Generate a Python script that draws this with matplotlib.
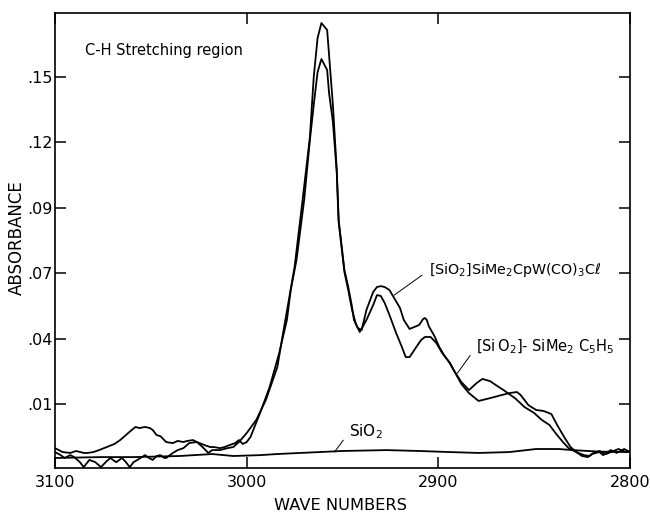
import matplotlib
matplotlib.use("Agg")
import matplotlib.pyplot as plt

# IR spectra, C-H stretching region (wavenumber in cm-1, absorbance)
cpw_wn = [3100, 3097, 3095, 3092, 3090, 3087, 3085, 3083, 3082, 3079, 3076, 3073, 3071, 3069,
          3068, 3065, 3063, 3061, 3059, 3057, 3053, 3051, 3049, 3047, 3045, 3043, 3042, 3040,
          3038.5, 3036, 3033, 3030, 3026, 3023, 3020, 3018, 3014, 3010, 3007, 3004, 3000,
          2995, 2990, 2984, 2981, 2978, 2975, 2971, 2967, 2965, 2963, 2961, 2958, 2957, 2955,
          2953, 2952, 2949, 2947, 2945, 2944, 2942, 2940, 2937.5, 2934, 2932, 2930, 2928,
          2925.5, 2923, 2920, 2918, 2915, 2912.5, 2910, 2908, 2907, 2906, 2905, 2902, 2899.5,
          2897, 2894, 2892, 2888, 2884, 2880, 2877, 2873, 2870, 2866, 2860, 2855, 2850, 2846,
          2842, 2838.5, 2835, 2832, 2828, 2824, 2821, 2819, 2816, 2812.5, 2810, 2806, 2802, 2800]
cpw_abs = [-0.0120, -0.0134, -0.0147, -0.0134, -0.0143, -0.0166, -0.0189, -0.0166, -0.0156,
           -0.0166, -0.0189, -0.0161, -0.0147, -0.0161, -0.0166, -0.0147, -0.0166, -0.0189,
           -0.0166, -0.0156, -0.0134, -0.0147, -0.0156, -0.0138, -0.0134, -0.0147, -0.0147,
           -0.0134, -0.0124, -0.0111, -0.0102, -0.0079, -0.0074, -0.0097, -0.0124, -0.0111,
           -0.0111, -0.0102, -0.0097, -0.0074, -0.0033,
           0.0027, 0.0118, 0.0269, 0.0425, 0.0576, 0.0727, 0.1021, 0.1323, 0.1598, 0.1776,
           0.1845, 0.1813, 0.1698, 0.1470, 0.1172, 0.0943, 0.0714, 0.0636, 0.0544, 0.0485,
           0.0448, 0.0439, 0.0531, 0.0613, 0.0636, 0.0640, 0.0636, 0.0622, 0.0585, 0.0540,
           0.0485, 0.0444, 0.0453, 0.0462, 0.0489, 0.0494, 0.0485, 0.0457, 0.0411, 0.0361,
           0.0324, 0.0288, 0.0256, 0.0201, 0.0164, 0.0196, 0.0215, 0.0205, 0.0187, 0.0164,
           0.0127, 0.0086, 0.0059, 0.0027, 0.0004, -0.0037, -0.0074, -0.0102, -0.0120,
           -0.0134, -0.0138, -0.0124, -0.0115, -0.0129, -0.0120, -0.0106, -0.0120, -0.0115]

c5h5_wn = [3100, 3096, 3092, 3089, 3085, 3083, 3080, 3077, 3073, 3069, 3066, 3063, 3060, 3058,
           3056, 3053, 3050.5, 3049, 3047, 3045, 3044, 3042, 3038.5, 3036, 3033, 3031, 3028,
           3026, 3024.5, 3022, 3019, 3017, 3014, 3011.5, 3009, 3006, 3004, 3002, 3000, 2998,
           2993, 2988, 2983, 2979, 2977, 2974, 2970, 2967, 2965, 2963, 2961, 2958, 2957, 2955,
           2953, 2952, 2949, 2947, 2945, 2943, 2941, 2937.5, 2934, 2932, 2930, 2928, 2925.5,
           2922, 2919, 2917, 2915, 2911.5, 2909, 2907, 2904, 2901, 2898, 2894, 2892, 2888,
           2884, 2879, 2873, 2867, 2863, 2859, 2857, 2853, 2849, 2845, 2841, 2838, 2834, 2831,
           2828, 2825, 2822, 2820, 2816, 2814, 2810, 2807, 2803, 2800]
c5h5_abs = [-0.0102, -0.0120, -0.0124, -0.0115, -0.0124, -0.0124, -0.0120, -0.0111, -0.0097,
            -0.0083, -0.0065, -0.0042, -0.0019, -0.0005, -0.0010, -0.0005, -0.0010, -0.0019,
            -0.0042, -0.0047, -0.0056, -0.0074, -0.0079, -0.0069, -0.0074, -0.0069, -0.0065,
            -0.0074, -0.0079, -0.0088, -0.0097, -0.0097, -0.0102, -0.0097, -0.0088, -0.0079,
            -0.0065, -0.0083, -0.0074, -0.0051,
            0.0059, 0.0178, 0.0334, 0.0485, 0.0622, 0.0760, 0.1034, 0.1309, 0.1470, 0.1620,
            0.1680, 0.1630, 0.1524, 0.1392, 0.1163, 0.0934, 0.0705, 0.0622, 0.0531, 0.0466,
            0.0430, 0.0485, 0.0553, 0.0599, 0.0595, 0.0563, 0.0508, 0.0425, 0.0361, 0.0315,
            0.0315, 0.0361, 0.0393, 0.0407, 0.0407, 0.0379, 0.0334, 0.0288, 0.0256, 0.0192,
            0.0150, 0.0114, 0.0127, 0.0141, 0.0150, 0.0155, 0.0141, 0.0095, 0.0073, 0.0068,
            0.0054, 0.0004, -0.0056, -0.0097, -0.0120, -0.0138, -0.0143, -0.0129, -0.0120,
            -0.0134, -0.0111, -0.0124, -0.0106, -0.0120]

sio2_wn = [3100, 3076, 3059, 3035, 3018, 3007, 2993, 2984, 2972, 2962, 2950, 2927, 2910,
           2894, 2879, 2863, 2849, 2837, 2830, 2816, 2800]
sio2_abs = [-0.0147, -0.0143, -0.0143, -0.0138, -0.0129, -0.0138, -0.0134, -0.0129, -0.0124,
            -0.0120, -0.0115, -0.0111, -0.0115, -0.0120, -0.0124, -0.0120, -0.0106, -0.0106,
            -0.0111, -0.0118, -0.0120]

x_ticks = [3100, 3000, 2900, 2800]
y_ticks = [0.01, 0.04, 0.07, 0.10, 0.13, 0.16]
y_tick_labels = [".01", ".04", ".07", ".09", ".12", ".15"]

fig = plt.figure(figsize=(6.5, 5.13), dpi=100)
ax = fig.add_axes([0.0846, 0.0877, 0.8846, 0.887])

line_kw = dict(color="black", lw=1.3)
ax.plot(cpw_wn, cpw_abs, **line_kw)
ax.plot(c5h5_wn, c5h5_abs, **line_kw)
ax.plot(sio2_wn, sio2_abs, **line_kw)

ax.set_xlim(3100, 2800)
ax.set_ylim(-0.0193, 0.1891)
ax.set_xticks(x_ticks)
ax.set_xticklabels([str(t) for t in x_ticks])
ax.set_yticks(y_ticks)
ax.set_yticklabels(y_tick_labels)
ax.tick_params(direction="in", length=8, width=1.1, labelsize=11.5,
               top=True, right=True)
ax.tick_params(axis="y", pad=1.5)
ax.tick_params(axis="x", pad=5)
for spine in ax.spines.values():
    spine.set_linewidth(1.2)

fig.text(17 / 650, 1 - 238 / 513, "ABSORBANCE", rotation=90, ha="center", va="center",
         fontsize=12)
fig.text(341 / 650, 1 - 505 / 513, "WAVE NUMBERS", ha="center", va="center",
         fontsize=11.7)

ax.text(3084.4, 0.1721, "C-H Stretching region", fontsize=10.5, va="center", ha="left")

arrow = dict(arrowstyle="-", lw=0.7, color="black", shrinkA=4, shrinkB=0,
             relpos=(0, 0.5))
ax.annotate(r"$\left[\mathrm{SiO_2}\right]\mathrm{SiMe_2CpW(CO)_3C}\ell$",
            xy=(2923, 0.0599), xytext=(2904.7, 0.0714), fontsize=10.3,
            ha="left", va="center", arrowprops=arrow)
ax.annotate(r"$\left[\mathrm{Si\,O_2}\right]$- SiMe$_2$ C$_5$H$_5$",
            xy=(2890, 0.0242), xytext=(2880.2, 0.0361), fontsize=10.5,
            ha="left", va="center", arrowprops=arrow)
ax.annotate(r"SiO$_2$", xy=(2954.2, -0.0120), xytext=(2946.4, -0.0028), fontsize=11,
            ha="left", va="center", arrowprops=arrow)

fig.savefig("out.png", dpi=100)
